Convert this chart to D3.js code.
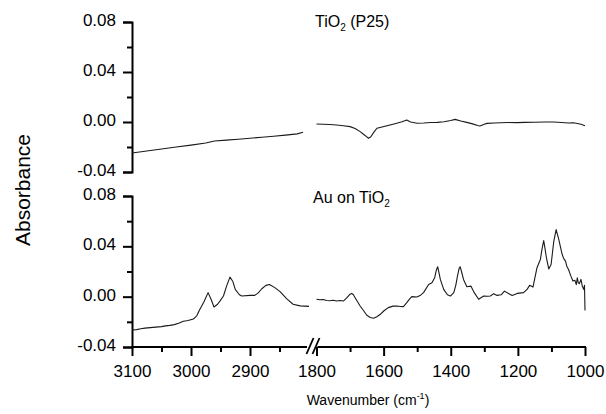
<!DOCTYPE html>
<html>
<head>
<meta charset="utf-8">
<script src="https://cdn.jsdelivr.net/npm/d3@7"></script>
<style>
  body { margin: 0; background: #fff; }
  text { font-family: "Liberation Sans", Arial, sans-serif; fill: #000; }
</style>
</head>
<body>
<div class="ir-chart"></div>
<script>
/* CONSTANTS AND GLOBALS */
const width = 606,
  height = 414;

/* DATA */
// TiO2 (P25), high wavenumber part
const topLeftWn = [3100, 3075, 3050, 3025, 3000, 2975, 2960, 2940, 2920, 2900, 2880, 2860, 2840, 2820, 2810];
const topLeftAbs = [-0.0248, -0.0232, -0.0216, -0.0200, -0.0185, -0.0168, -0.0152, -0.0145, -0.0138, -0.0130, -0.0122, -0.0114, -0.0105, -0.0095, -0.0082];

// TiO2 (P25), fingerprint part
const topRightWn = [1800, 1780, 1760, 1740, 1720, 1700, 1685, 1670, 1660, 1652, 1645, 1638, 1630, 1620, 1605, 1590, 1575, 1561, 1545, 1531, 1520, 1500, 1480, 1460, 1440, 1420, 1400, 1387, 1370, 1352, 1335, 1320, 1313, 1300, 1292, 1270, 1250, 1230, 1202, 1180, 1150, 1120, 1093, 1070, 1050, 1035, 1023, 1012, 1000];
const topRightAbs = [-0.0016, -0.0018, -0.0020, -0.0024, -0.0030, -0.0037, -0.0052, -0.0077, -0.0098, -0.0115, -0.0130, -0.0118, -0.0085, -0.0050, -0.0040, -0.0030, -0.0020, -0.0010, 0.0002, 0.0016, 0.0000, -0.0010, -0.0008, -0.0004, -0.0003, 0.0002, 0.0012, 0.0021, 0.0008, -0.0003, -0.0015, -0.0028, -0.0032, -0.0018, -0.0011, -0.0008, -0.0006, -0.0004, -0.0005, -0.0003, -0.0002, 0.0000, 0.0000, -0.0004, -0.0008, -0.0006, -0.0012, -0.0018, -0.0030];

// Au on TiO2, high wavenumber part
const botLeftWn = [3100, 3092, 3085, 3078, 3069, 3060, 3050, 3043, 3036, 3028, 3020, 3013, 3005, 2996, 2990, 2986, 2978, 2971, 2966, 2961, 2955, 2951, 2945, 2940, 2934, 2929, 2925, 2918, 2914, 2900, 2892, 2886, 2880, 2873, 2867, 2858, 2849, 2838, 2827, 2815, 2800];
const botLeftAbs = [-0.0265, -0.0262, -0.0255, -0.0250, -0.0246, -0.0242, -0.0238, -0.0232, -0.0228, -0.0222, -0.0210, -0.0196, -0.0190, -0.0178, -0.0150, -0.0110, -0.0040, 0.0032, -0.0020, -0.0082, -0.0060, -0.0035, 0.0005, 0.0080, 0.0155, 0.0120, 0.0058, 0.0015, 0.0005, 0.0010, 0.0010, 0.0030, 0.0063, 0.0090, 0.0097, 0.0072, 0.0040, -0.0016, -0.0060, -0.0073, -0.0077];

// Au on TiO2, fingerprint part
const botRightWn = [1800, 1790, 1780, 1770, 1760, 1750, 1740, 1730, 1720, 1710, 1700, 1695, 1690, 1685, 1670, 1660, 1650, 1640, 1630, 1620, 1610, 1598, 1586, 1572, 1561, 1550, 1541, 1531, 1523, 1516, 1501, 1490, 1481, 1466, 1456, 1448, 1443, 1439, 1435, 1431, 1421, 1410, 1401, 1391, 1385, 1380, 1375, 1372, 1367, 1362, 1352, 1340, 1330, 1317, 1302, 1290, 1282, 1272, 1262, 1250, 1240, 1228, 1217, 1202, 1183, 1172, 1165, 1155, 1143, 1133, 1128, 1123, 1119, 1115, 1108, 1101, 1093, 1086, 1078, 1068, 1063, 1058, 1054, 1049, 1045, 1042, 1036, 1030, 1026, 1023, 1020, 1017, 1012, 1008, 1004, 1001.5, 1000];
const botRightAbs = [-0.0021, -0.0025, -0.0022, -0.0030, -0.0032, -0.0028, -0.0035, -0.0030, -0.0035, -0.0010, 0.0020, 0.0026, 0.0015, -0.0008, -0.0074, -0.0110, -0.0148, -0.0165, -0.0172, -0.0160, -0.0140, -0.0110, -0.0087, -0.0075, -0.0074, -0.0078, -0.0079, -0.0048, -0.0020, 0.0000, -0.0003, 0.0012, 0.0032, 0.0097, 0.0110, 0.0150, 0.0210, 0.0238, 0.0190, 0.0137, 0.0058, 0.0015, 0.0005, 0.0032, 0.0090, 0.0163, 0.0225, 0.0238, 0.0190, 0.0137, 0.0079, 0.0084, 0.0032, -0.0021, 0.0005, 0.0003, 0.0005, 0.0024, 0.0010, 0.0015, 0.0044, 0.0025, 0.0010, 0.0026, 0.0032, 0.0060, 0.0090, 0.0076, 0.0230, 0.0295, 0.0380, 0.0446, 0.0380, 0.0310, 0.0220, 0.0256, 0.0440, 0.0533, 0.0454, 0.0335, 0.0300, 0.0282, 0.0240, 0.0216, 0.0185, 0.0163, 0.0124, 0.0130, 0.0095, 0.0150, 0.0110, 0.0103, 0.0137, 0.0084, 0.0058, 0.0090, -0.0110];

// tick labels
const yTicks = [0.08, 0.04, 0.00, -0.04];
const yMinorTicks = [0.06, 0.02, -0.02];
const xLeftTicks = [3100, 3000, 2900];
const xLeftMinor = [3050, 2950, 2850];
const xRightTicks = [1800, 1600, 1400, 1200, 1000];
const xRightMinor = [1700, 1500, 1300, 1100];

const zip = (wn, abs) => wn.map((w, i) => ({ wn: w, abs: abs[i] }));

/* SCALES */
const xLeft = d3.scaleLinear().domain([3100, 2800]).range([132, 309]);
const xRight = d3.scaleLinear().domain([1800, 1000]).range([316.5, 585]);
const yTop = d3.scaleLinear().domain([-0.04, 0.08]).range([172, 22]);
const yBot = d3.scaleLinear().domain([-0.04, 0.08]).range([347, 196]);

const svg = d3.select(".ir-chart")
  .append("svg")
  .attr("width", width)
  .attr("height", height);

// y axes, one per panel
function drawYAxis(yScale) {
  const major = d3.axisLeft(yScale)
    .tickValues(yTicks)
    .tickSize(9)
    .tickPadding(7);
  const g = svg.append("g")
    .attr("transform", `translate(${132}, 0)`)
    .call(major);
  g.select(".domain").attr("stroke-width", 2);
  g.selectAll(".tick line").attr("stroke-width", 2);
  g.selectAll(".tick text")
    .attr("font-size", 17)
    .attr("dy", "0.2em")
    .text(d => d.toFixed(2));

  const minor = d3.axisLeft(yScale).tickValues(yMinorTicks).tickSize(5).tickFormat("");
  const gm = svg.append("g")
    .attr("transform", `translate(${132}, 0)`)
    .call(minor);
  gm.select(".domain").remove();
  gm.selectAll(".tick line").attr("stroke-width", 2);
}
drawYAxis(yTop);
drawYAxis(yBot);

// x axis with break
function drawXAxis(xScale, ticks, minorTicks, range) {
  const major = d3.axisBottom(xScale)
    .tickValues(ticks)
    .tickFormat(d3.format("d"))
    .tickSize(9)
    .tickPadding(9)
    .tickSizeOuter(0);
  const g = svg.append("g")
    .attr("transform", `translate(0, ${347})`)
    .call(major);
  g.select(".domain").remove();
  g.append("line")
    .attr("x1", range[0]).attr("x2", range[1])
    .attr("stroke", "#000").attr("stroke-width", 2);
  g.selectAll(".tick line").attr("stroke-width", 2);
  g.selectAll(".tick text").attr("font-size", 17);

  const minor = d3.axisBottom(xScale).tickValues(minorTicks).tickSize(5).tickFormat("");
  const gm = svg.append("g")
    .attr("transform", `translate(0, ${347})`)
    .call(minor);
  gm.select(".domain").remove();
  gm.selectAll(".tick line").attr("stroke-width", 2);
}
drawXAxis(xLeft, xLeftTicks, xLeftMinor, [xLeft(3100) - 1, xLeft(2800) - 2]);
drawXAxis(xRight, xRightTicks, xRightMinor, [xRight(1800) + 1, xRight(1000) + 1]);

// break marks "//"
[xLeft(2800) + 1, xRight(1800) - 0.5].forEach(cx => {
  svg.append("line")
    .attr("x1", cx - 3.5).attr("y1", 354)
    .attr("x2", cx + 3.5).attr("y2", 338)
    .attr("stroke", "#000")
    .attr("stroke-width", 1.8);
});

/* LINES */
const lineLeft = (yScale) => d3.line().x(d => xLeft(d.wn)).y(d => yScale(d.abs));
const lineRight = (yScale) => d3.line().x(d => xRight(d.wn)).y(d => yScale(d.abs));

const series = [
  { data: zip(topLeftWn, topLeftAbs), line: lineLeft(yTop) },
  { data: zip(topRightWn, topRightAbs), line: lineRight(yTop) },
  { data: zip(botLeftWn, botLeftAbs), line: lineLeft(yBot) },
  { data: zip(botRightWn, botRightAbs), line: lineRight(yBot) }
];

svg.selectAll("path.spectrum")
  .data(series)
  .join("path")
  .attr("class", "spectrum")
  .attr("fill", "none")
  .attr("stroke", "#1a1a1a")
  .attr("stroke-width", 1.1)
  .attr("stroke-linejoin", "round")
  .attr("d", d => d.line(d.data));

/* LABELS */
function panelLabel(x, y, pre, sub, post) {
  const t = svg.append("text")
    .attr("x", x).attr("y", y)
    .attr("font-size", 16);
  t.append("tspan").text(pre);
  t.append("tspan").attr("font-size", 10).attr("dy", 4).text(sub);
  t.append("tspan").attr("dy", -4).text(post);
}
panelLabel(315, 27, "TiO", "2", " (P25)");
panelLabel(313, 203, "Au on TiO", "2", "");

svg.append("text")
  .attr("transform", `translate(${30}, ${190})rotate(-90)`)
  .attr("text-anchor", "middle")
  .attr("font-size", 21)
  .text("Absorbance");

const xl = svg.append("text")
  .attr("x", 368).attr("y", 405)
  .attr("text-anchor", "middle")
  .attr("font-size", 14);
xl.append("tspan").text("Wavenumber (cm");
xl.append("tspan").attr("font-size", 9).attr("dy", -6).text("-1");
xl.append("tspan").attr("dy", 6).text(")");
</script>
</body>
</html>
